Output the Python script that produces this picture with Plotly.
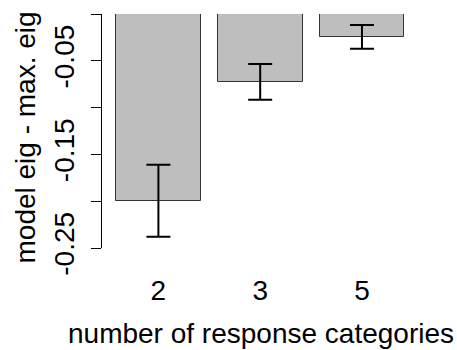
import plotly.graph_objects as go

categories = ["2", "3", "5"]
values = [-0.1995, -0.0725, -0.0245]
errors = [0.0385, 0.0190, 0.0127]

y_tickvals = [0.0, -0.05, -0.10, -0.15, -0.20, -0.25]
y_ticktext = ["", "-0.05", "", "-0.15", "", "-0.25"]

# R barplot positions (space 0.2, width 1)
xpos = [0.7 + 1.2 * i for i in range(len(categories))]

FONT = "Liberation Sans, Arial, Helvetica, sans-serif"

fig = go.Figure()
fig.add_trace(go.Bar(
    x=xpos, y=values, width=1.0,
    marker=dict(color="#BEBEBE", line=dict(color="#333333", width=1)),
    error_y=dict(type="data", array=errors, visible=True, color="black",
                 thickness=2, width=12),
    showlegend=False,
))

fig.update_layout(
    width=457, height=350,
    margin=dict(l=102, r=17, t=14, b=102),
    paper_bgcolor="white", plot_bgcolor="white",
    font=dict(family=FONT, size=28, color="black"),
    bargap=0,
    xaxis=dict(range=[0.035, 4.02], tickvals=xpos, ticktext=categories,
               ticks="", showline=False, showgrid=False, zeroline=False,
               ticklabelstandoff=23, tickfont=dict(size=28)),
    yaxis=dict(range=[-0.25, 0], tickvals=y_tickvals, ticktext=y_ticktext,
               ticks="outside", ticklen=10, tickcolor="black", tickwidth=1,
               showline=True, linecolor="black", linewidth=1,
               showgrid=False, zeroline=False, tickangle=-90,
               ticklabelstandoff=6, tickfont=dict(size=28)),
    annotations=[
        dict(text="number of response categories", xref="paper", yref="paper",
             x=(261 - 102) / (457 - 102 - 17), y=-(348 - 248) / 234,
             xanchor="center", yanchor="bottom", showarrow=False,
             font=dict(size=28), yshift=-3),
        dict(text="model eig - max. eig", xref="paper", yref="paper",
             x=-(102 - 25) / (457 - 102 - 17), y=(248 - 137.5) / 234,
             xanchor="center", yanchor="middle", showarrow=False,
             textangle=-90, font=dict(size=28)),
    ],
)

fig.write_html("out.html")
